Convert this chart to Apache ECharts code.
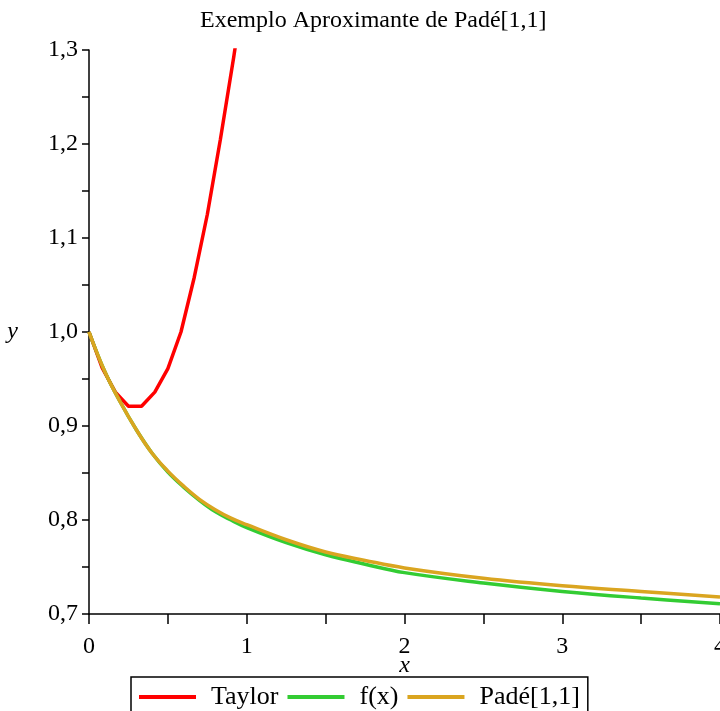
<!DOCTYPE html>
<html>
<head>
<meta charset="utf-8">
<script src="https://cdn.jsdelivr.net/npm/echarts@6/dist/echarts.min.js"></script>
<style>
  html, body { margin: 0; padding: 0; background: #fff; }
  #chart { width: 720px; height: 711px; }
</style>
</head>
<body>
<div id="chart"></div>
<script>
// Taylor polynomial samples
const taylorX = [0, 0.083, 0.167, 0.25, 0.333, 0.417, 0.5, 0.583, 0.667, 0.75, 0.833, 0.917, 1.0];
const taylorY = [1.0, 0.962, 0.936, 0.921, 0.921, 0.936, 0.961, 1.0, 1.058, 1.125, 1.205, 1.292, 1.385];

// f(x) and Padé[1,1] samples on a shared x grid
const curveX = [0, 0.1, 0.2, 0.3, 0.4, 0.5, 0.6, 0.7, 0.8, 0.9, 1.0, 1.25, 1.5, 1.75, 2.0, 2.5, 3.0, 3.5, 4.0];
const fY     = [1.0, 0.958, 0.925, 0.896, 0.871, 0.851, 0.835, 0.821, 0.809, 0.800, 0.792, 0.776, 0.763, 0.753, 0.744, 0.733, 0.724, 0.717, 0.711];
const padeY  = [1.0, 0.958, 0.925, 0.896, 0.871, 0.852, 0.836, 0.822, 0.811, 0.802, 0.795, 0.779, 0.766, 0.757, 0.749, 0.738, 0.730, 0.724, 0.718];

const seriesNames = ['Taylor', 'f(x)', 'Padé[1,1]'];
const seriesColors = ['#ff0000', '#33cc33', '#daa520'];

const pairs = (xs, ys) => xs.map((x, i) => [x, ys[i]]);
const serif = '"Liberation Serif", "DejaVu Serif", serif';

const chart = echarts.init(document.getElementById('chart'), null, { renderer: 'canvas' });

const axisLine = { show: true, lineStyle: { color: '#000', width: 1.5 } };

chart.setOption({
  animation: false,
  backgroundColor: '#fff',
  title: {
    text: 'Exemplo Aproximante de Padé[1,1]',
    left: 195,
    top: 4,
    textStyle: { fontFamily: serif, fontSize: 24, fontWeight: 'normal', color: '#000' }
  },
  legend: {
    data: seriesNames,
    left: 131,
    top: 677,
    orient: 'horizontal',
    icon: 'rect',
    borderColor: '#000',
    borderWidth: 1.5,
    padding: [7, 8, 10, 8],
    itemGap: 9,
    itemWidth: 57,
    itemHeight: 4,
    textStyle: { fontFamily: serif, fontSize: 26, color: '#000', padding: [0, 0, 0, 10] }
  },
  grid: { left: 89, top: 50, width: 631, height: 564, outerBoundsMode: 'none', containLabel: false },
  xAxis: {
    type: 'value',
    min: 0,
    max: 4,
    interval: 1,
    name: 'x',
    nameLocation: 'middle',
    nameGap: 40,
    nameMoveOverlap: false,
    nameTextStyle: { fontFamily: serif, fontSize: 24, fontStyle: 'italic', color: '#000' },
    axisLine: axisLine,
    axisTick: { show: true, inside: false, length: 10, lineStyle: { color: '#000', width: 1.5 } },
    minorTick: { show: true, splitNumber: 2, length: 10, lineStyle: { color: '#000', width: 1.5 } },
    axisLabel: { fontFamily: serif, fontSize: 24, color: '#000', margin: 21 },
    splitLine: { show: false },
    minorSplitLine: { show: false }
  },
  yAxis: {
    type: 'value',
    min: 0.7,
    max: 1.3,
    interval: 0.1,
    name: 'y',
    nameLocation: 'middle',
    nameRotate: 0,
    nameGap: 71,
    nameMoveOverlap: false,
    nameTextStyle: { fontFamily: serif, fontSize: 24, fontStyle: 'italic', color: '#000' },
    axisLine: axisLine,
    axisTick: { show: true, inside: false, length: 7, lineStyle: { color: '#000', width: 1.5 } },
    minorTick: { show: true, splitNumber: 2, length: 7, lineStyle: { color: '#000', width: 1.5 } },
    axisLabel: {
      fontFamily: serif, fontSize: 24, color: '#000', margin: 11,
      formatter: v => v.toFixed(1).replace('.', ',')
    },
    splitLine: { show: false },
    minorSplitLine: { show: false }
  },
  series: [
    {
      name: seriesNames[0],
      type: 'line',
      data: pairs(taylorX, taylorY),
      symbol: 'none',
      clip: true,
      lineStyle: { color: seriesColors[0], width: 3.5 },
      itemStyle: { color: seriesColors[0] },
      z: 2
    },
    {
      name: seriesNames[1],
      type: 'line',
      data: pairs(curveX, fY),
      symbol: 'none',
      smooth: 0.4,
      lineStyle: { color: seriesColors[1], width: 3.5 },
      itemStyle: { color: seriesColors[1] },
      z: 3
    },
    {
      name: seriesNames[2],
      type: 'line',
      data: pairs(curveX, padeY),
      symbol: 'none',
      smooth: 0.4,
      lineStyle: { color: seriesColors[2], width: 3.5 },
      itemStyle: { color: seriesColors[2] },
      z: 4
    }
  ]
});
</script>
</body>
</html>
